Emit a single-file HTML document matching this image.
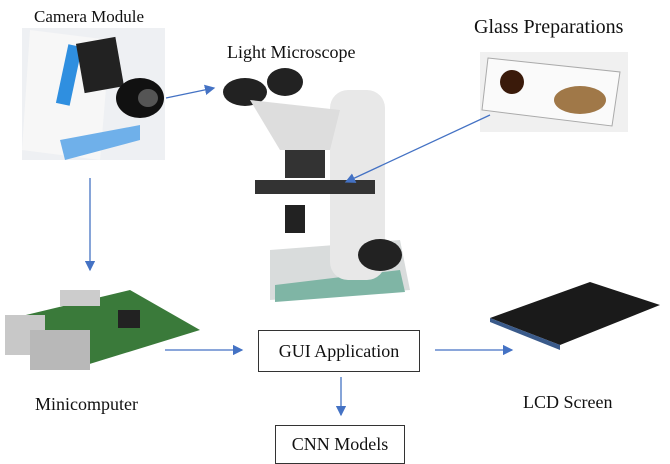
<!DOCTYPE html>
<html><head><meta charset="utf-8"><style>
body{margin:0;width:670px;height:463px;background:#fff;position:relative;overflow:hidden;font-family:"Liberation Serif",serif;color:#111}
.t{position:absolute;font-size:18px;white-space:nowrap}
.box{position:absolute;border:1px solid #333;background:#fff;font-size:18px;display:flex;align-items:center;justify-content:center}
svg{position:absolute;left:0;top:0}
</style></head><body>
<svg width="670" height="463">
<defs><marker id="a" markerWidth="8" markerHeight="8" refX="7" refY="4" orient="auto"><path d="M0,0L8,4L0,8z" fill="#4472c4"/></marker></defs>
<rect x="22" y="28" width="143" height="132" fill="#eef0f3"/>
<path d="M30,30 L110,40 L100,160 L22,150z" fill="#f7f7f7"/>
<rect x="62" y="45" width="14" height="60" fill="#2f8fe0" transform="rotate(12 69 75)"/>
<rect x="80" y="40" width="40" height="50" fill="#222" transform="rotate(-10 100 65)"/>
<ellipse cx="140" cy="98" rx="24" ry="20" fill="#111"/>
<ellipse cx="148" cy="98" rx="10" ry="9" fill="#555"/>
<path d="M60,140 L140,125 L140,140 L65,160z" fill="#6fb0ea"/>
<path d="M270,250 L400,240 L410,290 L270,300z" fill="#d9dcdc"/>
<path d="M275,285 L400,270 L405,292 L275,302z" fill="#7fb5a5"/>
<rect x="330" y="90" width="55" height="190" rx="18" fill="#e8e8e8"/>
<rect x="255" y="180" width="120" height="14" fill="#333"/>
<ellipse cx="245" cy="92" rx="22" ry="14" fill="#222"/>
<ellipse cx="285" cy="82" rx="18" ry="14" fill="#222"/>
<path d="M250,100 L340,110 L330,150 L280,150z" fill="#ddd"/>
<rect x="285" y="150" width="40" height="28" fill="#333"/>
<ellipse cx="380" cy="255" rx="22" ry="16" fill="#222"/>
<rect x="285" y="205" width="20" height="28" fill="#222"/>
<rect x="480" y="52" width="148" height="80" fill="#f0f0f0"/>
<path d="M488,58 L620,72 L612,126 L482,110z" fill="#fafafa" stroke="#aaa"/>
<circle cx="512" cy="82" r="12" fill="#3a1a0a"/>
<ellipse cx="580" cy="100" rx="26" ry="14" fill="#a07848"/>
<path d="M5,320 L130,290 L200,330 L70,370z" fill="#3a7a3a"/>
<rect x="5" y="315" width="40" height="40" fill="#c8c8c8"/>
<rect x="30" y="330" width="60" height="40" fill="#b8b8b8"/>
<rect x="60" y="290" width="40" height="16" fill="#ccc"/>
<rect x="118" y="310" width="22" height="18" fill="#222"/>
<path d="M490,318 L590,282 L660,305 L560,345z" fill="#1a1a1a"/>
<path d="M490,318 L560,345 L560,350 L490,322z" fill="#3a5a8a"/>
<g stroke="#4472c4" stroke-width="1.3" fill="none" marker-end="url(#a)">
<line x1="166" y1="98" x2="214" y2="88"/>
<line x1="490" y1="115" x2="346" y2="182"/>
<line x1="90" y1="178" x2="90" y2="270"/>
<line x1="165" y1="350" x2="242" y2="350"/>
<line x1="435" y1="350" x2="512" y2="350"/>
<line x1="341" y1="377" x2="341" y2="415"/>
</g>
</svg>
<div class="t" style="left:34px;top:7px;font-size:17px">Camera Module</div>
<div class="t" style="left:227px;top:42px">Light Microscope</div>
<div class="t" style="left:474px;top:16px;font-size:20px">Glass Preparations</div>
<div class="t" style="left:35px;top:394px">Minicomputer</div>
<div class="t" style="left:523px;top:392px">LCD Screen</div>
<div class="box" style="left:258px;top:330px;width:160px;height:40px">GUI Application</div>
<div class="box" style="left:275px;top:425px;width:128px;height:37px">CNN Models</div>
</body></html>
